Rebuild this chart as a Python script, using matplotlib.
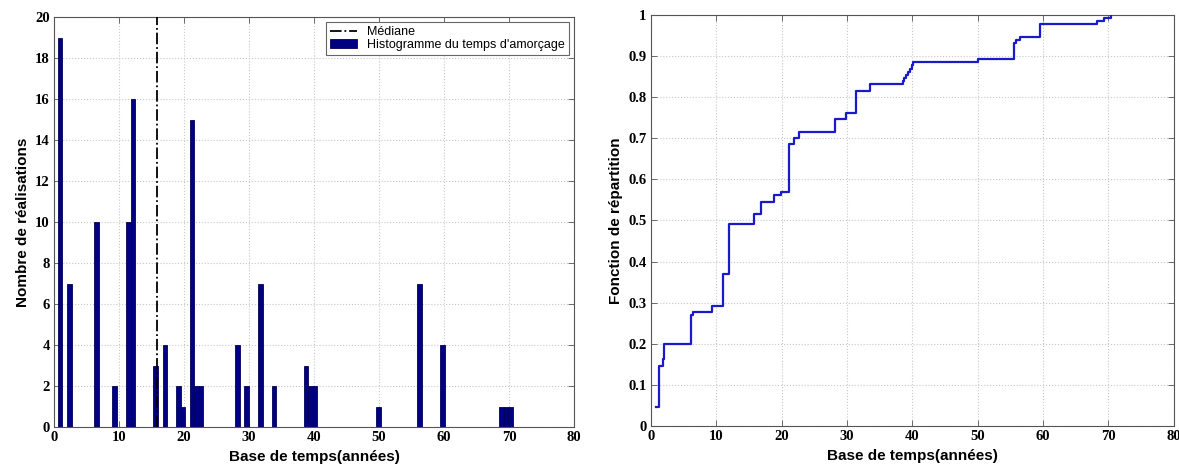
import matplotlib
matplotlib.use("Agg")
import matplotlib.pyplot as plt
from matplotlib.ticker import FormatStrFormatter

# histogram of initiation times (bin centres in years, counts)
bin_centres = [0.95, 2.35, 6.55, 9.35, 11.45, 12.15, 15.65, 17.05, 19.15, 19.85,
               21.25, 21.95, 22.65, 28.25, 29.65, 31.75, 33.85, 38.75, 39.45, 40.15,
               49.95, 56.25, 59.75, 68.85, 69.55, 70.25]
counts = [19, 7, 10, 2, 10, 16, 3, 4, 2, 1,
          15, 2, 2, 4, 2, 7, 2, 3, 2, 2,
          1, 7, 4, 1, 1, 1]
bin_width = 0.7
median_time = 15.85

# empirical distribution function (step positions, level after step)
cdf_x = [0.85, 1.2, 1.9, 2.0, 6.2, 6.5, 9.4, 11.0, 11.9, 15.8, 16.8, 18.8, 19.9,
         21.1, 21.9, 22.7, 28.2, 29.8, 31.4, 33.6, 38.5, 38.8, 39.0, 39.4, 39.7,
         39.9, 40.1, 50.0, 55.6, 55.9, 56.4, 59.6, 68.3, 69.3, 70.4]
cdf_y = [0.046, 0.146, 0.162, 0.200, 0.269, 0.277, 0.292, 0.369, 0.492, 0.515,
         0.546, 0.562, 0.569, 0.685, 0.700, 0.715, 0.746, 0.762, 0.815, 0.831,
         0.838, 0.846, 0.854, 0.862, 0.869, 0.877, 0.885, 0.892, 0.931, 0.938,
         0.946, 0.977, 0.985, 0.992, 1.000]

tick_font = dict(family="Liberation Serif", weight="bold", size=10.5)
label_font = dict(family="Liberation Sans", weight="bold", size=11)
grid_kw = dict(color="#c8c8c8", linestyle=":", linewidth=0.8)

fig = plt.figure(figsize=(11.79, 4.71), dpi=100)
ax1 = fig.add_axes([0.0458, 0.0934, 0.441, 0.870])
ax2 = fig.add_axes([0.552, 0.0955, 0.4436, 0.873])

# left: histogram + median
bars = ax1.bar(bin_centres, counts, width=bin_width, color="#000080", edgecolor="#00005a",
               linewidth=0.6, zorder=2)
med, = ax1.plot([median_time, median_time], [0, 20], color="black", linestyle="-.",
                linewidth=1.3, zorder=3)
ax1.set_xlim(0, 80)
ax1.set_ylim(0, 20)
ax1.set_xticks(range(0, 81, 10))
ax1.set_yticks(range(0, 21, 2))
ax1.set_xlabel("Base de temps(années)", **label_font)
ax1.set_ylabel("Nombre de réalisations", **label_font)
leg = ax1.legend([med, bars], ["Médiane", "Histogramme du temps d'amorçage"],
                 loc="upper right", fancybox=False, framealpha=1, edgecolor="#666666",
                 prop=dict(family="Liberation Sans", size=9),
                 borderpad=0.3, labelspacing=0.1, handlelength=2.2, borderaxespad=0.4)
leg.get_frame().set_linewidth(0.8)

# right: distribution function
ax2.plot(cdf_x, cdf_y, drawstyle="steps-post", color="#1a1acc", linewidth=1.6, zorder=3)
ax2.set_xlim(0, 80)
ax2.set_ylim(0, 1)
ax2.set_xticks(range(0, 81, 10))
ax2.set_yticks([i / 10 for i in range(11)])
ax2.yaxis.set_major_formatter(FormatStrFormatter("%g"))
ax2.set_xlabel("Base de temps(années)", **label_font)
ax2.set_ylabel("Fonction de répartition", **label_font)

for ax in (ax1, ax2):
    ax.grid(True, **grid_kw)
    ax.set_axisbelow(True)
    ax.tick_params(direction="in", top=True, right=True, length=4, width=0.6,
                   color="#555555", pad=3)
    for lab in ax.get_xticklabels() + ax.get_yticklabels():
        lab.set_fontfamily(tick_font["family"])
        lab.set_fontweight(tick_font["weight"])
        lab.set_fontsize(tick_font["size"])
    for sp in ax.spines.values():
        sp.set_color("#555555")
        sp.set_linewidth(0.8)
    ax.xaxis.labelpad = 4
    ax.yaxis.labelpad = 4

fig.savefig("out.png", dpi=100)
